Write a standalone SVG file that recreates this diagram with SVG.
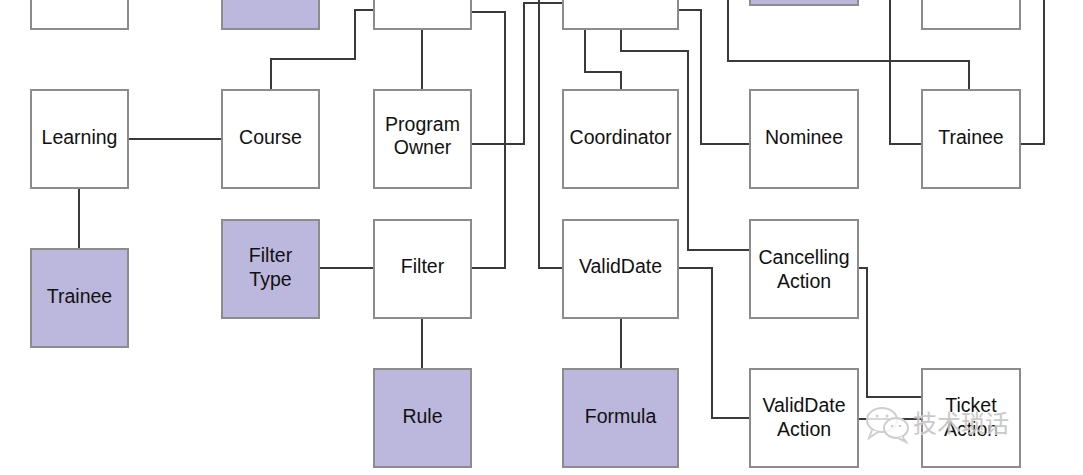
<svg xmlns="http://www.w3.org/2000/svg" width="1083" height="475" viewBox="0 0 1083 475">
<style>
.box{fill:#ffffff;stroke:#8c8c8c;stroke-width:2}
.pbox{fill:#bcb7dc;stroke:#8c8c8c;stroke-width:2}
.lbl{font-family:"Liberation Sans",Arial,sans-serif;font-size:19.5px;fill:#111111;text-anchor:middle}
.con{fill:none;stroke:#3a3a3a;stroke-width:2}
.wm{font-family:"Noto Sans CJK SC",sans-serif;font-size:24px;fill:#c4c4c4;stroke:#ffffff;stroke-width:0.6;paint-order:stroke;opacity:0.9}
</style>
<rect width="1083" height="475" fill="#ffffff"/>
<g id="connectors">
<path class="con" d="M128 139H222"/>
<path class="con" d="M79 188V249"/>
<path class="con" d="M271 90V59H355V10H374"/>
<path class="con" d="M422 29V90"/>
<path class="con" d="M471 12H505V268H471"/>
<path class="con" d="M319 268H374"/>
<path class="con" d="M422 318V369"/>
<path class="con" d="M471 144H524V3H563"/>
<path class="con" d="M539 -2V268H563"/>
<path class="con" d="M621 318V369"/>
<path class="con" d="M678 268H712V418H750"/>
<path class="con" d="M585 29V72H621V90"/>
<path class="con" d="M621 29V51H688V250H750"/>
<path class="con" d="M678 10H701V144H750"/>
<path class="con" d="M728 -2V61H969V90"/>
<path class="con" d="M890 -2V144H922"/>
<path class="con" d="M1020 144H1044V-2"/>
<path class="con" d="M858 268H867V397H922"/>
<path class="con" d="M858 419H922"/>
</g>
<g id="top1"><rect class="box" x="31" y="-69" width="97" height="98"/></g>
<g id="top2"><rect class="pbox" x="222" y="-69" width="97" height="98"/></g>
<g id="top3"><rect class="box" x="374" y="-69" width="97" height="98"/></g>
<g id="top4"><rect class="box" x="563" y="-69" width="115" height="98"/></g>
<g id="top5"><rect class="pbox" x="750" y="-93" width="108" height="98"/></g>
<g id="top6"><rect class="box" x="922" y="-69" width="98" height="98"/></g>
<g id="learning"><rect class="box" x="31" y="90" width="97" height="98"/><text class="lbl" x="79.5" y="144">Learning</text></g>
<g id="course"><rect class="box" x="222" y="90" width="97" height="98"/><text class="lbl" x="270.5" y="144">Course</text></g>
<g id="program-owner"><rect class="box" x="374" y="90" width="97" height="98"/><text class="lbl" x="422.5" y="131">Program</text><text class="lbl" x="422.5" y="154">Owner</text></g>
<g id="coordinator"><rect class="box" x="563" y="90" width="115" height="98"/><text class="lbl" x="620.5" y="144">Coordinator</text></g>
<g id="nominee"><rect class="box" x="750" y="90" width="108" height="98"/><text class="lbl" x="804" y="144">Nominee</text></g>
<g id="trainee-top"><rect class="box" x="922" y="90" width="98" height="98"/><text class="lbl" x="971" y="144">Trainee</text></g>
<g id="trainee-left"><rect class="pbox" x="31" y="249" width="97" height="98"/><text class="lbl" x="79.5" y="303">Trainee</text></g>
<g id="filter-type"><rect class="pbox" x="222" y="220" width="97" height="98"/><text class="lbl" x="270.5" y="262">Filter</text><text class="lbl" x="270.5" y="286">Type</text></g>
<g id="filter"><rect class="box" x="374" y="220" width="97" height="98"/><text class="lbl" x="422.5" y="273">Filter</text></g>
<g id="validdate"><rect class="box" x="563" y="220" width="115" height="98"/><text class="lbl" x="620.5" y="273">ValidDate</text></g>
<g id="cancelling-action"><rect class="box" x="750" y="220" width="108" height="98"/><text class="lbl" x="804" y="264">Cancelling</text><text class="lbl" x="804" y="288">Action</text></g>
<g id="rule"><rect class="pbox" x="374" y="369" width="97" height="98"/><text class="lbl" x="422.5" y="423">Rule</text></g>
<g id="formula"><rect class="pbox" x="563" y="369" width="115" height="98"/><text class="lbl" x="620.5" y="423">Formula</text></g>
<g id="validdate-action"><rect class="box" x="750" y="369" width="108" height="98"/><text class="lbl" x="804" y="412">ValidDate</text><text class="lbl" x="804" y="436">Action</text></g>
<g id="ticket-action"><rect class="box" x="922" y="369" width="98" height="98"/><text class="lbl" x="971" y="412">Ticket</text><text class="lbl" x="971" y="436">Action</text></g>
<g id="watermark">
<ellipse cx="882" cy="420" rx="15" ry="12" fill="#ffffff" fill-opacity="0.8" stroke="#cfcfcf" stroke-width="2"/>
<path d="M872 430 L869 438 L878 432" fill="#ffffff" stroke="#cfcfcf" stroke-width="2"/>
<ellipse cx="896" cy="428" rx="12" ry="10" fill="#ffffff" fill-opacity="0.8" stroke="#cfcfcf" stroke-width="2"/>
<path d="M902 436 L906 442 L898 438" fill="#ffffff" stroke="#cfcfcf" stroke-width="2"/>
<circle cx="877" cy="416" r="1.5" fill="#cfcfcf"/><circle cx="887" cy="416" r="1.5" fill="#cfcfcf"/>
<circle cx="892" cy="426" r="1.3" fill="#cfcfcf"/><circle cx="900" cy="426" r="1.3" fill="#cfcfcf"/>
<text class="wm" x="913" y="432">技术琐话</text>
</g>
</svg>
